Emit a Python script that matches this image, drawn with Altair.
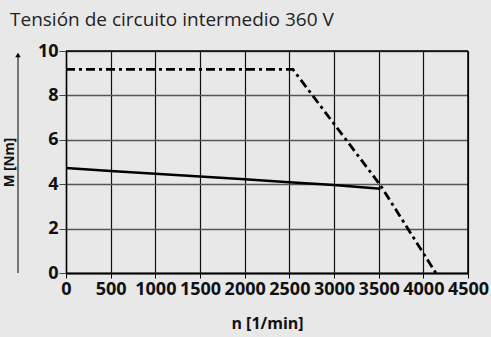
import altair as alt
import pandas as pd

solid_n = [0, 500, 1000, 1500, 2000, 2500, 3000, 3520]
solid_m = [4.73, 4.6, 4.47, 4.35, 4.22, 4.09, 3.96, 3.8]
dash_n = [0, 2540, 3520, 4140]
dash_m = [9.17, 9.17, 3.95, 0.0]
x_ticks = [0, 500, 1000, 1500, 2000, 2500, 3000, 3500, 4000, 4500]
y_ticks = [0, 2, 4, 6, 8, 10]

W, H = 402, 222
FONT = "Open Sans"

solid = pd.DataFrame({"n": solid_n, "M": solid_m})
dash = pd.DataFrame({"n": dash_n, "M": dash_m})

xs = alt.Scale(domain=[0, 4500], nice=False)
ys = alt.Scale(domain=[0, 10], nice=False)

xax = alt.Axis(values=x_ticks, format="d", grid=True, title="n [1/min]", labelFont=FONT,
               labelFontWeight="bold", labelFontSize=18, labelColor="#111", titleFont=FONT,
               titleFontWeight="bold", titleFontSize=16, titleColor="#111", titlePadding=17,
               tickSize=5, labelPadding=2, domainColor="#000", domainWidth=2, tickColor="#000",
               gridColor="#111", gridWidth=1.2, gridOpacity=1, labelFlush=False)
yax = alt.Axis(values=y_ticks, format="d", grid=True, title="M [Nm]", labelFont=FONT,
               labelFontWeight="bold", labelFontSize=18, labelColor="#111", titleFont=FONT,
               titleFontWeight="bold", titleFontSize=13.5, titleColor="#111", titleX=-50,
               titleY=H / 2, tickSize=7, labelPadding=1, domainColor="#000", domainWidth=1.5,
               tickColor="#444", gridColor="#555", gridWidth=1.5, gridOpacity=1,
               labelFlush=False)

base_solid = alt.Chart(solid).mark_line(color="#000", strokeWidth=2.5).encode(
    x=alt.X("n:Q", scale=xs, axis=xax),
    y=alt.Y("M:Q", scale=ys, axis=yax),
)
dashed = alt.Chart(dash).mark_line(color="#000", strokeWidth=2.8,
                                   strokeDash=[9, 4, 3, 4]).encode(
    x=alt.X("n:Q", scale=xs),
    y=alt.Y("M:Q", scale=ys),
)
arrow = alt.Chart(pd.DataFrame({"a": [0]})).mark_rule(color="#000", strokeWidth=1).encode(
    x=alt.value(-48), y=alt.value(H), y2=alt.value(3)
)
head = alt.Chart(pd.DataFrame({"a": [0]})).mark_point(
    shape="triangle-up", filled=True, color="#000", size=30, opacity=1
).encode(x=alt.value(-48), y=alt.value(4))

borders = alt.Chart(pd.DataFrame({"a": [0]})).mark_rule(color="#000", strokeWidth=1.5).encode(
    x=alt.value(W), y=alt.value(0), y2=alt.value(H)
)
top_border = alt.Chart(pd.DataFrame({"a": [0]})).mark_rule(color="#000", strokeWidth=1.5).encode(
    x=alt.value(0), x2=alt.value(W), y=alt.value(0)
)

chart = alt.layer(base_solid, dashed, arrow, head, borders, top_border).properties(
    width=W, height=H,
    background="#e8e8e8",
    padding={"left": 66, "top": 51, "right": 23, "bottom": 64},
    autosize=alt.AutoSizeParams(type="none"),
    title=alt.TitleParams("Tensión de circuito intermedio 360 V", font=FONT,
                          fontSize=19, fontWeight="normal", color="#222",
                          anchor="start", frame="group", dx=-56, dy=0, offset=12),
).configure_view(stroke=None)

chart.save("out.html", embed_options={"renderer": "svg", "actions": False})
